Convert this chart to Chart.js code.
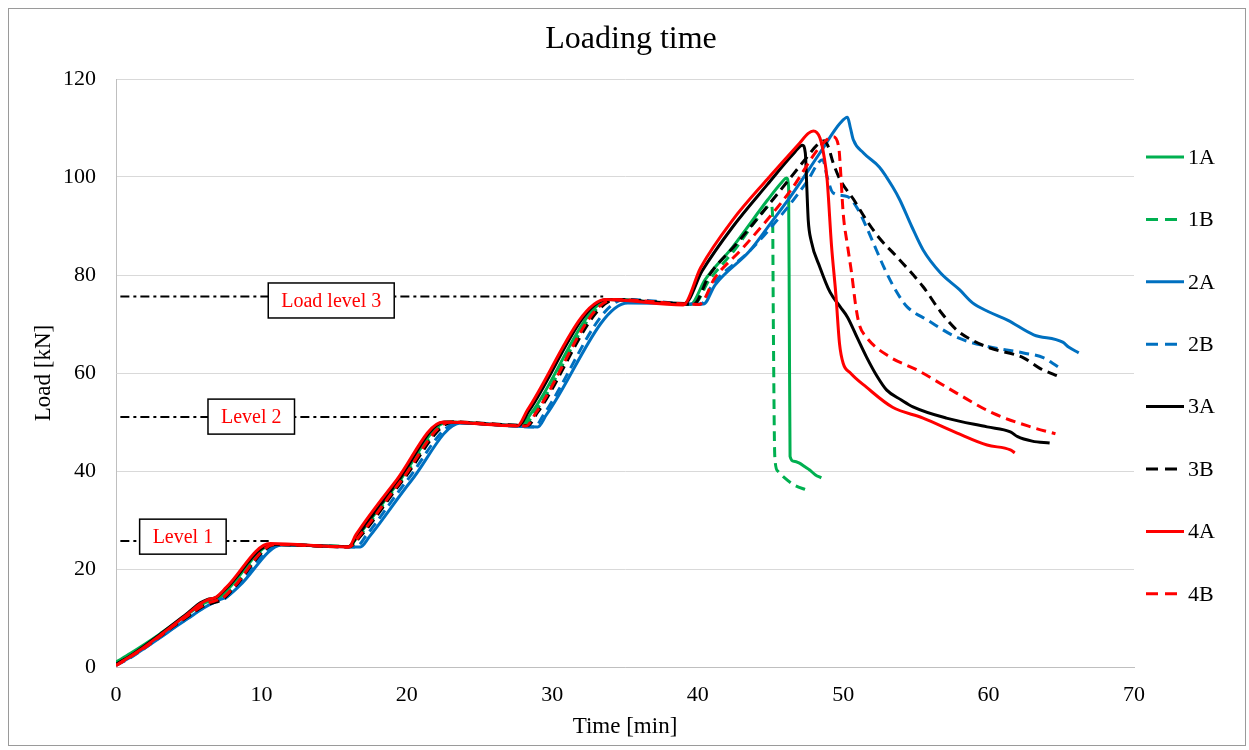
<!DOCTYPE html>
<html>
<head>
<meta charset="utf-8">
<title>Loading time</title>
<script src="https://cdn.jsdelivr.net/npm/chart.js@4.4.1/dist/chart.umd.min.js"></script>
<style>
    html, body { margin: 0; padding: 0; background: #fff; }
    #wrap { width: 1249px; height: 750px; position: relative; }
</style>
</head>
<body>
<div id="wrap"><canvas id="loadChart"></canvas></div>
<script>
// --- Data: [time (min), load (kN)] ---
const seriesNames = ['1A', '1B', '2A', '2B', '3A', '3B', '4A', '4B'];
const seriesColors = ['#00b050', '#00b050', '#0070c0', '#0070c0', '#000000', '#000000', '#ff0000', '#ff0000'];
const seriesDashed = [false, true, false, true, false, true, false, true];

const s1A = [[0,1],[1,2.8],[2,4.7],[3,6.7],[4,8.8],[5,10.9],[6,12.9],[6.6,13.6],[7.1,14.1],[7.8,16.2],[10.8,25],[16,24.6],[16.7,27],[19.5,38],[22.8,50],[27.8,49.2],[28.6,52],[34,75],[39.5,74],[40.5,79],[42.4,85.7],[44.8,95.3],[45.8,99],[46.1,99.8],[46.25,98],[46.3,70],[46.35,43],[46.6,42],[47,41.6],[47.4,40.8],[47.7,40.2],[48.1,39.2],[48.5,38.6]];
const s1B = [[0,0.6],[1,2.4],[2,4.4],[3,6.5],[4,8.6],[5,10.6],[6,12.6],[6.7,13.4],[7.3,14],[8,16],[11,25],[16,24.6],[16.8,27],[19.6,38],[23,50],[28,49.2],[28.8,52],[34.2,75],[39.7,74],[40.8,79],[42.5,85],[44.3,92.2],[45.05,94.3],[45.15,92],[45.2,70],[45.3,43],[45.5,40],[45.9,38.8],[46.6,37.2],[47.5,36.1]];
const s2A = [[0,0.4],[1,2],[2,3.9],[3,5.9],[4,8],[5,10],[6,12],[7,13.6],[7.6,14.3],[8.5,16.6],[11.4,24.9],[16.8,24.5],[17.4,26.5],[20.3,38],[23.7,49.8],[29,49],[29.6,51.5],[35.2,74.3],[40.4,74.1],[41.2,78],[43.6,85],[45,90.5],[46.5,96.5],[48.4,104.9],[49.8,111],[50.3,112.2],[50.5,110],[50.7,107.6],[51.4,104.9],[52.5,102],[53.4,98],[53.9,95.3],[54.7,90],[55.5,85.1],[56.7,80.4],[58,77],[58.9,74.3],[60,72.5],[61.3,70.8],[63.1,67.8],[65.1,66.3],[65.5,65.3],[66.2,64.1]];
const s2B = [[0,0.3],[1,1.9],[2,3.9],[3,6],[4,8.1],[5,10.1],[6,12.1],[7,13.5],[7.5,14],[8.3,16.3],[11.2,25],[16.5,24.5],[17.2,26.8],[20,38],[23.5,49.8],[28.8,49],[29.4,51.5],[35,75],[40.2,74],[41,78],[43.6,85],[46.1,93.5],[47.5,99],[48.6,103.5],[48.9,100],[49.3,96.8],[50.3,96],[51,93.5],[51.6,89.8],[52.3,85],[52.8,81.6],[53.4,78],[53.9,75.5],[54.4,73.5],[55.8,70.8],[57.8,67.3],[60.1,65.3],[62.4,64.1],[63.8,63.1],[64.4,62],[65.1,60.6]];
const s3A = [[0,0.5],[1,2.3],[2,4.4],[3,6.6],[4,8.9],[5,11.2],[5.8,13.1],[6.3,13.8],[6.9,14.2],[7.6,16.1],[10.7,25],[16,24.6],[16.6,26.8],[19.4,38],[22.6,50],[27.7,49.3],[28.4,52.3],[33.8,75],[39.1,74.2],[40.3,80.8],[42.4,89.8],[44.8,98.5],[46.6,104.8],[47.2,106.5],[47.4,104.9],[47.5,98],[47.6,91.2],[47.8,87],[48.4,81.6],[49.1,76.5],[49.8,73.5],[50.3,71.4],[51,67],[51.6,63.3],[52.3,59.5],[53,56.5],[54,54.5],[54.8,53.1],[57.1,50.8],[59.9,49],[61.5,48],[62,47],[63,46.1],[64.2,45.7]];
const s3B = [[0,0.5],[1,2.2],[2,4.1],[3,6.2],[4,8.4],[5,10.4],[6,12.4],[6.8,13.2],[7.3,13.7],[8,15.8],[11,25],[16,24.5],[16.9,27],[19.7,38],[23.2,50],[28.3,49.3],[29,52],[34.4,75],[39.7,74],[40.8,80],[42.7,86.5],[45.2,95.5],[47.5,104],[48.2,106.5],[48.7,107.4],[49,106],[49.3,103],[49.8,99.4],[50.7,95.5],[51.6,91.2],[52.5,87.5],[53.6,84],[55.5,77.6],[56.7,72.5],[57.8,68.8],[59,66.5],[60.1,65.1],[62.4,63.1],[63.5,61],[64.9,59.2]];
const s4A = [[0,0.3],[1,2.2],[2,4.2],[3,6.4],[4,8.7],[5,11],[5.8,12.9],[6.3,13.7],[6.9,14.3],[7.6,16.3],[10.6,25.2],[16,24.5],[16.5,27],[19.3,38.2],[22.5,50],[27.6,49.2],[28.3,52.5],[33.7,75],[39,73.9],[40.2,81.5],[42.4,91.2],[44.8,99.6],[47,106.9],[47.6,108.9],[47.95,109.4],[48.4,108],[48.7,104],[48.9,99.4],[49.2,86],[49.5,76],[49.75,66],[50,62],[50.5,60],[51.6,57.1],[53.4,53],[55.5,50.8],[57.8,47.8],[59.9,45.3],[61.5,44.3],[61.8,43.7]];
const s4B = [[0,0.3],[1,2.1],[2,4],[3,6.2],[4,8.5],[5,10.6],[6,12.6],[6.8,13.5],[7.3,14],[8,16],[10.9,25],[16,24.5],[16.8,27],[19.6,38],[23,50],[28.2,49.2],[28.9,52],[34.2,75],[40.1,74],[41.2,79.5],[43.1,85.5],[46.4,97.3],[48.5,106.5],[49.3,108.2],[49.7,106],[49.85,100],[50,92.7],[50.3,86],[50.6,80],[50.85,74],[51.1,70],[51.6,67.3],[53.2,63.3],[55.1,60.6],[57.8,55.9],[60.3,51.8],[62.9,49],[64.6,47.6]];
const seriesData = [s1A, s1B, s2A, s2B, s3A, s3B, s4A, s4B];

// --- Load level marks ---
const levelNames = ['Level 1', 'Level 2', 'Load level 3'];
const levelLoads = [25.7, 51.0, 75.6];
const levelStart = [0.3, 0.3, 0.3];
const levelEnd = [10.5, 22.3, 33.5];
const levelBoxX = [4.6, 9.3, 14.8];
const levelBoxY = [26.6, 51.1, 74.8];

const chartTitle = 'Loading time';
const FONT = '"Liberation Serif", "Times New Roman", serif';

// --- Datasets ---
const datasets = seriesNames.map((name, i) => ({
    label: name,
    data: seriesData[i].map(p => ({ x: p[0], y: p[1] })),
    borderColor: seriesColors[i],
    backgroundColor: seriesColors[i],
    borderWidth: 3,
    borderDash: seriesDashed[i] ? [10, 6] : [],
    pointRadius: 0,
    cubicInterpolationMode: 'monotone',
    fill: false,
    order: seriesNames.length - i
}));

levelNames.forEach((name, i) => {
    datasets.push({
        label: name,
        data: [{ x: levelStart[i], y: levelLoads[i] }, { x: levelEnd[i], y: levelLoads[i] }],
        borderColor: '#000',
        borderWidth: 2,
        borderDash: [9, 4, 3, 4],
        pointRadius: 0,
        fill: false,
        order: 20
    });
});

// --- Plugins ---
const levelBoxes = {
    id: 'levelBoxes',
    afterDatasetsDraw(chart) {
        const { ctx, scales: { x, y } } = chart;
        ctx.save();
        ctx.font = '20px ' + FONT;
        levelNames.forEach((name, i) => {
            const cx = x.getPixelForValue(levelBoxX[i]);
            const cy = y.getPixelForValue(levelBoxY[i]);
            const w = ctx.measureText(name).width + 26;
            const h = 35;
            ctx.fillStyle = '#fff';
            ctx.fillRect(cx - w / 2, cy - h / 2, w, h);
            ctx.strokeStyle = '#000';
            ctx.lineWidth = 1.5;
            ctx.setLineDash([]);
            ctx.strokeRect(cx - w / 2, cy - h / 2, w, h);
            ctx.fillStyle = '#ff0000';
            ctx.textAlign = 'center';
            ctx.textBaseline = 'middle';
            ctx.fillText(name, cx, cy + 1);
        });
        ctx.restore();
    }
};

const sideLegend = {
    id: 'sideLegend',
    afterDraw(chart) {
        const { ctx } = chart;
        const top = 157, gap = 62.4, x0 = 1146, x1 = 1184;
        ctx.save();
        ctx.font = '22px ' + FONT;
        seriesNames.forEach((name, i) => {
            const yy = top + i * gap;
            ctx.strokeStyle = seriesColors[i];
            ctx.lineWidth = 3;
            ctx.setLineDash(seriesDashed[i] ? [12, 7] : []);
            ctx.beginPath();
            ctx.moveTo(x0, yy);
            ctx.lineTo(x1, yy);
            ctx.stroke();
            ctx.fillStyle = '#000';
            ctx.textAlign = 'left';
            ctx.textBaseline = 'middle';
            ctx.fillText(name, 1188, yy + 1);
        });
        ctx.restore();
    }
};

// white background, outer border and the centred title
const frame = {
    id: 'frame',
    beforeDraw(chart) {
        const { ctx, width, height } = chart;
        ctx.save();
        ctx.fillStyle = '#fff';
        ctx.fillRect(0, 0, width, height);
        ctx.restore();
    },
    afterDraw(chart) {
        const { ctx } = chart;
        ctx.save();
        ctx.strokeStyle = '#9a9a9a';
        ctx.lineWidth = 1;
        ctx.strokeRect(8.5, 8.5, 1237, 737);
        ctx.fillStyle = '#000';
        ctx.font = '32px ' + FONT;
        ctx.textAlign = 'center';
        ctx.textBaseline = 'middle';
        ctx.fillText(chartTitle, 631, 40);
        ctx.restore();
    }
};

// --- Chart ---
new Chart(document.getElementById('loadChart').getContext('2d'), {
    type: 'line',
    data: { datasets },
    plugins: [frame, levelBoxes, sideLegend],
    options: {
        responsive: true,
        maintainAspectRatio: false,
        animation: false,
        events: [],
        layout: { padding: { left: 0, right: 115, top: 79, bottom: 0 } },
        plugins: {
            legend: { display: false },
            tooltip: { enabled: false },
            title: { display: false }
        },
        scales: {
            x: {
                type: 'linear',
                min: 0,
                max: 70,
                afterFit: s => { s.height = 83; },
                grid: { display: false, drawTicks: false },
                border: { display: true, color: '#bfbfbf', width: 1 },
                ticks: { stepSize: 10, color: '#000', padding: 15, font: { family: FONT, size: 22 } },
                title: {
                    display: true,
                    text: 'Time [min]',
                    color: '#000',
                    font: { family: FONT, size: 23 },
                    padding: { top: 0, bottom: 9 }
                }
            },
            y: {
                min: 0,
                max: 120,
                afterFit: s => { s.width = 116; },
                grid: { color: '#d9d9d9', lineWidth: 1, drawTicks: false },
                border: { display: true, color: '#bfbfbf', width: 1 },
                ticks: { stepSize: 20, color: '#000', padding: 20, font: { family: FONT, size: 22 } },
                title: {
                    display: true,
                    text: 'Load [kN]',
                    color: '#000',
                    font: { family: FONT, size: 23 },
                    padding: { top: 30, bottom: 0 }
                }
            }
        }
    }
});
</script>
</body>
</html>
